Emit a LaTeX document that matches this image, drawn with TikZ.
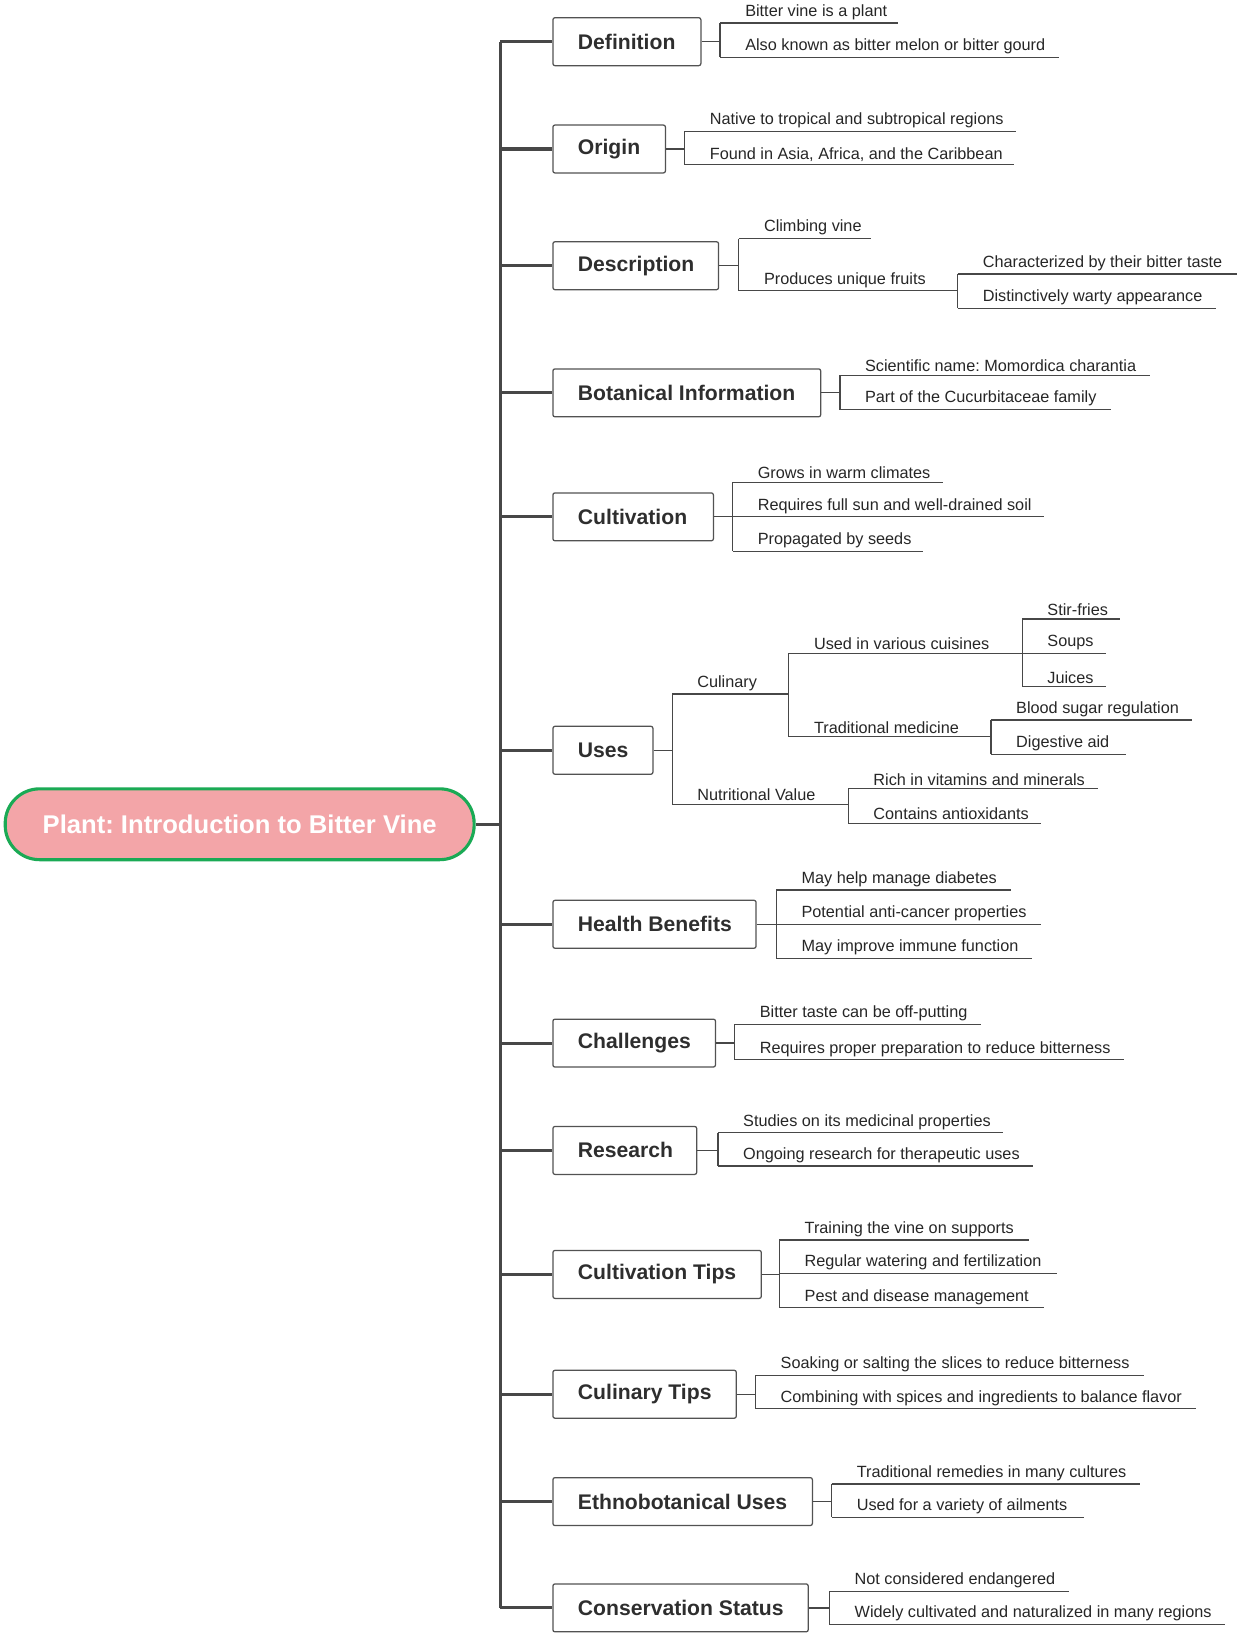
\documentclass[tikz,border=0pt]{standalone}
\usepackage{fontspec}
\setmainfont{Liberation Sans}
\frenchspacing
\begin{document}
\begin{tikzpicture}[x=1pt,y=-1pt,
 trunk/.style={draw=black!72,line width=3pt},
 ln/.style={draw=black!72,line width=1.2pt},
 box/.style={draw=black!68,line width=1.2pt,rounded corners=2pt,anchor=west,minimum height=46pt,inner xsep=24pt,font=\fontsize{20.3}{23}\selectfont\bfseries,text=black!82},
 leaf/.style={anchor=south west,inner xsep=0pt,inner ysep=3pt,font=\fontsize{15.6}{17}\selectfont,text=black!85}]
\useasboundingbox (0,0) rectangle (1190,1570);
\newcommand\bx[4]{\node[box] (#1) at (530,#2) {\makebox[\dimexpr #3pt-48pt\relax][l]{#4}};
 \draw[trunk] (480,#2) -- (#1.west);}
\newcommand\br[4]{\coordinate (bb#1) at (#2,0); \draw[ln] (#1.east) -- (#1.east -| bb#1); \draw[ln] (#2,#3) -- (#2,#4);}
\newcommand\lf[5]{\node[leaf] (#1) at (#2+24,#3) {#5}; \draw[ln] (#2,#3) -- (#4,#3);}
% root
\node[draw={rgb,255:red,26;green,170;blue,85},line width=3pt,fill={rgb,255:red,243;green,165;blue,168},rounded corners=33pt,minimum width=450pt,minimum height=68pt,font=\fontsize{24.6}{28}\selectfont\bfseries,text=white] (root) at (230,791) {Plant: Introduction to Bitter Vine};
\coordinate (t1) at (480,40); \coordinate (t2) at (480,1543);
\draw[trunk] (root.east) -- (480,791);
\draw[trunk] (t1) -- (t2);
% Definition
\bx{def}{40}{142}{Definition}
\br{def}{691}{22}{55}
\lf{d1}{691}{22}{862}{Bitter vine is a plant}
\lf{d2}{691}{55}{1016}{Also known as bitter melon or bitter gourd}
% Origin
\bx{ori}{143}{108}{Origin}
\br{ori}{657}{126}{158}
\lf{o1}{657}{126}{975}{Native to tropical and subtropical regions}
\lf{o2}{657}{158}{973}{Found in Asia, Africa, and the Caribbean}
% Description
\bx{des}{255}{159}{Description}
\br{des}{709}{229}{279}
\lf{e1}{709}{229}{836}{Climbing vine}
\lf{e2}{709}{279}{919}{Produces unique fruits}
\draw[ln] (919,263) -- (919,296);
\lf{e3}{919}{263}{1187}{Characterized by their bitter taste}
\lf{e4}{919}{296}{1167}{Distinctively warty appearance}
% Botanical
\bx{bot}{377}{257}{Botanical Information}
\br{bot}{806}{360}{393}
\lf{b1}{806}{360}{1104}{Scientific name: Momordica charantia}
\lf{b2}{806}{393}{1066}{Part of the Cucurbitaceae family}
% Cultivation
\bx{cul}{496}{154}{Cultivation}
\br{cul}{703}{463}{529}
\lf{c1}{703}{463}{905}{Grows in warm climates}
\lf{c2}{703}{496}{1002}{Requires full sun and well-drained soil}
\lf{c3}{703}{529}{886}{Propagated by seeds}
% Uses
\bx{use}{720}{96}{Uses}
\br{use}{645}{666}{772}
\lf{u1}{645}{666}{757}{Culinary}
\lf{u2}{645}{772}{814}{Nutritional Value}
\draw[ln] (757,627) -- (757,707);
\lf{u11}{757}{627}{981}{Used in various cuisines}
\lf{u12}{757}{707}{951}{Traditional medicine}
\draw[ln] (981,594) -- (981,659);
\lf{u111}{981}{594}{1075}{Stir-fries}
\lf{u112}{981}{627}{1061}{Soups}
\lf{u113}{981}{659}{1061}{Juices}
\draw[ln] (951,691) -- (951,724);
\lf{u121}{951}{691}{1144}{Blood sugar regulation}
\lf{u122}{951}{724}{1081}{Digestive aid}
\draw[ln] (814,757) -- (814,790);
\lf{u21}{814}{757}{1054}{Rich in vitamins and minerals}
\lf{u22}{814}{790}{999}{Contains antioxidants}
% Health
\bx{hea}{887}{195}{Health Benefits}
\br{hea}{745}{854}{920}
\lf{h1}{745}{854}{970}{May help manage diabetes}
\lf{h2}{745}{887}{999}{Potential anti-cancer properties}
\lf{h3}{745}{920}{990}{May improve immune function}
% Challenges
\bx{cha}{1001}{156}{Challenges}
\br{cha}{705}{983}{1017}
\lf{ch1}{705}{983}{941}{Bitter taste can be off-putting}
\lf{ch2}{705}{1017}{1079}{Requires proper preparation to reduce bitterness}
% Research
\bx{res}{1104}{138}{Research}
\br{res}{689}{1087}{1119}
\lf{r1}{689}{1087}{963}{Studies on its medicinal properties}
\lf{r2}{689}{1119}{991}{Ongoing research for therapeutic uses}
% Cultivation Tips
\bx{ctp}{1223}{200}{Cultivation Tips}
\br{ctp}{748}{1190}{1255}
\lf{t1a}{748}{1190}{987}{Training the vine on supports}
\lf{t2a}{748}{1222}{1014}{Regular watering and fertilization}
\lf{t3a}{748}{1255}{1002}{Pest and disease management}
% Culinary Tips
\bx{cut}{1338}{176}{Culinary Tips}
\br{cut}{725}{1320}{1352}
\lf{k1}{725}{1320}{1098}{Soaking or salting the slices to reduce bitterness}
\lf{k2}{725}{1352}{1148}{Combining with spices and ingredients to balance flavor}
% Ethnobotanical
\bx{eth}{1441}{249}{Ethnobotanical Uses}
\br{eth}{798}{1424}{1456}
\lf{n1}{798}{1424}{1094}{Traditional remedies in many cultures}
\lf{n2}{798}{1456}{1040}{Used for a variety of ailments}
% Conservation
\bx{con}{1543}{245}{Conservation Status}
\br{con}{796}{1527}{1559}
\lf{s1}{796}{1527}{1026}{Not considered endangered}
\lf{s2}{796}{1559}{1176}{Widely cultivated and naturalized in many regions}
\end{tikzpicture}
\end{document}
